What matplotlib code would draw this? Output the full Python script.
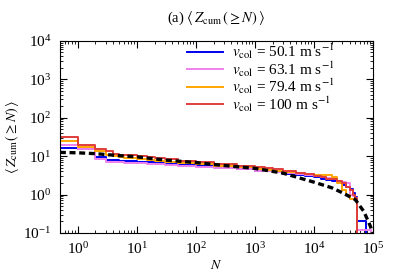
import matplotlib
matplotlib.use("Agg")
import matplotlib.pyplot as plt
import numpy as np

plt.rcParams['font.family'] = ['Liberation Serif', 'DejaVu Serif']
plt.rcParams['mathtext.fontset'] = 'stix'
plt.rcParams['font.size'] = 9

# step edges (N) for the simulated curves
N_steps = [0.5, 1, 2, 3, 4, 5, 6, 7, 8, 10, 15, 20, 30, 50, 100, 200, 500,
           1000, 1500, 2000, 3000, 5000, 7000, 10000, 13000, 16000, 20000, 25000,
           30000, 35000, 40000, 45000, 50000, 53000, 75000, 93000]

z_50 = [16, 15.5, 9.3, 8.0, 7.8, 7.6, 7.5, 7.4, 7.3, 7.2, 6.9, 6.6, 6.3, 5.9, 5.6, 5.2, 4.6,
        4.2, 4.0, 3.8, 3.5, 3.2, 3.0, 2.8, 2.6, 2.45, 2.3, 2.1,
        1.8, 1.6, 1.4, 1.1, 0.85, 0.2, 0.01, 0.01]
z_63 = [19, 15.5, 8.6, 7.2, 7.0, 6.9, 6.8, 6.7, 6.7, 6.6, 6.4, 6.2, 6.0, 5.7, 5.3, 5.0, 4.6,
        4.2, 4.1, 3.9, 3.6, 3.4, 3.2, 3.0, 2.8, 2.7, 2.5, 2.3,
        2.1, 2.0, 1.0, 0.9, 0.8, 0.12, 0.12, 0.01]
z_79 = [25, 17.6, 13.8, 10.9, 10.0, 9.5, 9.2, 9.0, 8.7, 8.4, 7.9, 7.5, 6.9, 6.5, 6.1, 5.7, 5.1,
        4.6, 4.4, 4.2, 3.9, 3.6, 3.4, 3.2, 3.3, 3.2, 2.9, 2.0,
        1.3, 1.0, 0.78, 0.78, 0.78, 0.01, 0.01, 0.01]
z_100 = [32, 20, 15, 13.3, 11.5, 11.0, 10.8, 10.6, 10.4, 10.2, 9.6, 9.0, 8.3, 7.6, 6.9, 6.3, 5.6,
         5.1, 4.8, 4.5, 4.1, 3.7, 3.35, 3.0, 2.8, 2.6, 2.5, 2.3,
         2.0, 1.6, 1.3, 1.0, 0.8, 0.01, 0.01, 0.01]

# smooth model curve (dashed)
N_model = [0.5, 1, 2, 3, 5, 10, 30, 100, 300, 1000, 3000, 10000, 20000, 30000, 50000, 70000, 90000, 100000]
z_model = [12.5, 12.2, 11.6, 11.0, 10.3, 9.6, 7.9, 6.8, 5.7, 4.8, 3.6, 2.1, 1.5, 1.12, 0.74, 0.36, 0.15, 0.09]

labels = [r'$v_{\rm col}$ = 50.1 m s$^{-1}$', r'$v_{\rm col}$ = 63.1 m s$^{-1}$',
          r'$v_{\rm col}$ = 79.4 m s$^{-1}$', r'$v_{\rm col}$ = 100 m s$^{-1}$']
colors = ['#0000ee', '#ee82ee', '#ffa500', '#e03c3c']

fig = plt.figure(figsize=(3.99, 2.78), dpi=100)
ax = fig.add_axes([0.150, 0.162, 0.785, 0.691])

for z, c, lab in zip([z_50, z_63, z_79, z_100], colors, labels):
    ax.step(N_steps, z, where='post', color=c, lw=1.4, label=lab)
ax.plot(N_model, z_model, color='black', lw=2.4, dashes=(1.8, 1.1), zorder=5)

ax.set_xscale('log')
ax.set_yscale('log')
ax.set_xlim(0.5, 1e5)
ax.set_ylim(0.1, 1e4)
ax.tick_params(which='both', direction='in', top=True, right=True, labelsize=11)
ax.tick_params(which='major', length=5, pad=6)
ax.tick_params(which='minor', length=2.5)
ax.set_xlabel(r'$N$', fontsize=10, labelpad=1)
ax.set_ylabel(r'$\langle\, Z_{\rm cum}\,(\geq N)\,\rangle$', fontsize=10, labelpad=2)
ax.set_title(r'(a) $\langle\, Z_{\rm cum}\,(\geq N)\,\rangle$', fontsize=10.5, pad=14)
ax.legend(loc='upper left', bbox_to_anchor=(0.406, 0.995), frameon=False, fontsize=11,
          handlelength=2.35, handletextpad=0.6, labelspacing=-0.12, borderaxespad=0,
          borderpad=0)

fig.savefig('out.png', dpi=100)
